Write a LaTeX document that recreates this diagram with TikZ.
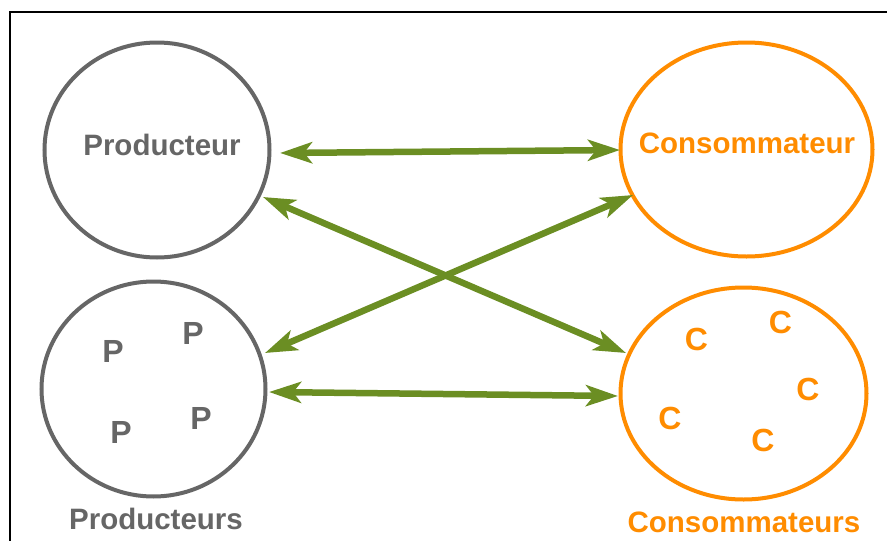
\documentclass[tikz,border=0pt]{standalone}
\usepackage{fontspec}
\setmainfont{Liberation Sans}
\usetikzlibrary{shapes.geometric,arrows.meta}
\definecolor{cgrey}{HTML}{666666}
\definecolor{corange}{HTML}{FF8C00}
\definecolor{cgreen}{HTML}{6B8E23}
\tikzset{
  greyell/.style={draw=cgrey, line width=4pt, ellipse, inner sep=0pt},
  orangeell/.style={draw=corange, line width=4pt, ellipse, inner sep=0pt},
  glabel/.style={text=cgrey, font=\bfseries\fontsize{29.5}{30}\selectfont, anchor=base, inner sep=0pt},
  olabel/.style={text=corange, font=\bfseries\fontsize{29.5}{30}\selectfont, anchor=base, inner sep=0pt},
  gletter/.style={text=cgrey, font=\bfseries\fontsize{32}{32}\selectfont, inner sep=0pt},
  oletter/.style={text=corange, font=\bfseries\fontsize{32}{32}\selectfont, inner sep=0pt},
  link/.style={draw=cgreen, line width=6.5pt, {Stealth[length=32pt,width=21pt,inset=8pt]}-{Stealth[length=32pt,width=21pt,inset=8pt]}}
}
\begin{document}
\begin{tikzpicture}[x=1pt,y=-1pt]
\useasboundingbox (0,0) rectangle (887,541);
\begin{scope}
\clip (0,0) rectangle (887,541);
\draw[black, line width=2pt] (9.5,560) -- (9.5,11.5) -- (900,11.5);
\end{scope}
% ellipses
\node[greyell, minimum width=225pt, minimum height=215pt] (prod) at (157,150) {};
\node[greyell, minimum width=224pt, minimum height=215pt] (prods) at (153.5,389) {};
\node[orangeell, minimum width=252pt, minimum height=214pt] (cons) at (746.5,149.5) {};
\node[orangeell, minimum width=246pt, minimum height=212pt] (conss) at (743.5,393.5) {};
% labels
\node[glabel] (lprod) at (162,155) {Producteur};
\node[olabel] (lcons) at (747,153) {Consommateur};
\node[glabel] (lprods) at (156,529) {Producteurs};
\node[olabel] (lconss) at (744,532) {Consommateurs};
% letters
\node[gletter] (p1) at (113,351.5) {P};
\node[gletter] (p2) at (193,333) {P};
\node[gletter] (p3) at (121,432) {P};
\node[gletter] (p4) at (201,418.5) {P};
\node[oletter] (c1) at (696.5,339) {C};
\node[oletter] (c2) at (780.5,322.5) {C};
\node[oletter] (c3) at (808,389) {C};
\node[oletter] (c4) at (670,418.5) {C};
\node[oletter] (c5) at (763,440) {C};
% arrow end points
\coordinate (a1) at (280,153);
\coordinate (b1) at (620,150);
\coordinate (a2) at (263,197);
\coordinate (b2) at (626,353);
\coordinate (a3) at (265,353);
\coordinate (b3) at (633,195);
\coordinate (a4) at (269,392);
\coordinate (b4) at (618,396);
\draw[link] (a1) -- (b1);
\draw[link] (a2) -- (b2);
\draw[link] (a3) -- (b3);
\draw[link] (a4) -- (b4);
\end{tikzpicture}
\end{document}
